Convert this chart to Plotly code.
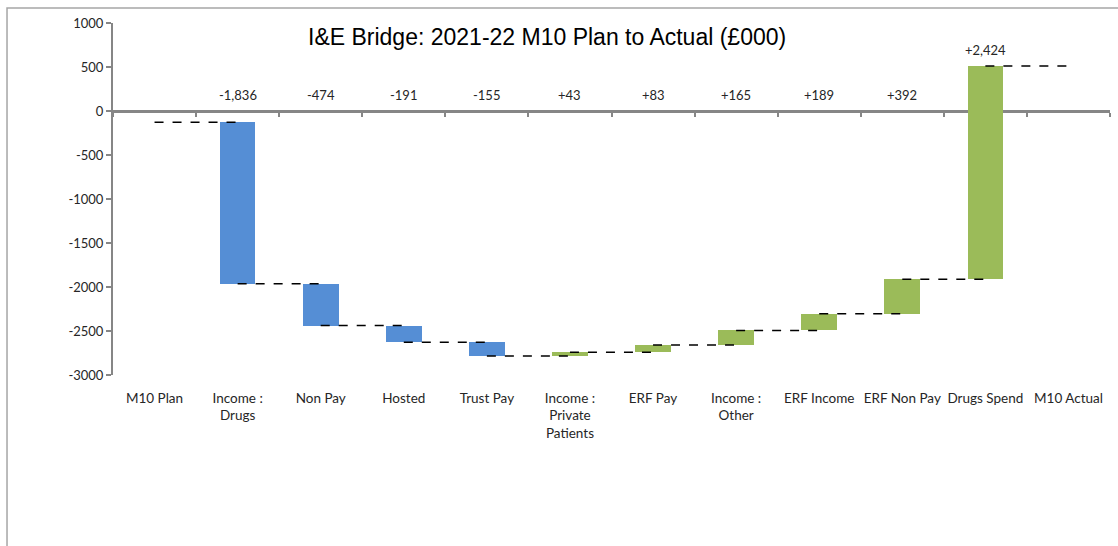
import plotly.graph_objects as go

# I&E bridge: movement from M10 plan to M10 actual (£000)
categories = ["M10 Plan", "Income :<br>Drugs", "Non Pay", "Hosted", "Trust Pay",
              "Income :<br>Private<br>Patients", "ERF Pay", "Income :<br>Other",
              "ERF Income", "ERF Non Pay", "Drugs Spend", "M10 Actual"]
plan_value = -128
movements = [-1836, -474, -191, -155, 43, 83, 165, 189, 392, 2424]

y_tick_values = [1000, 500, 0, -500, -1000, -1500, -2000, -2500, -3000]
y_tick_labels = ["1000", "500", "0", "-500", "-1000", "-1500", "-2000", "-2500", "-3000"]

BLUE = "#558ED5"
GREEN = "#9BBB59"
AXIS_GREY = "#868686"
TEXT = "#262626"
FONT = "Lato"

# running totals
levels = [plan_value]
for m in movements:
    levels.append(levels[-1] + m)
actual_value = levels[-1]

step_cats = categories[1:-1]
bases = levels[:-1]
colors = [BLUE if m < 0 else GREEN for m in movements]

fig = go.Figure()

# floating bars
fig.add_trace(go.Bar(
    x=step_cats, y=movements, base=bases,
    marker=dict(color=colors, line=dict(width=0)),
    width=0.43, hoverinfo="skip", showlegend=False,
))

# dashed connectors: from previous category centre to current centre
conn_x, conn_y = [], []
for i in range(1, len(categories)):
    lvl = levels[i - 1] if i < len(categories) - 1 else actual_value
    conn_x += [categories[i - 1], categories[i], None]
    conn_y += [lvl, lvl, None]
fig.add_trace(go.Scatter(
    x=conn_x, y=conn_y, mode="lines",
    line=dict(color="black", width=1.5, dash="dash"),
    hoverinfo="skip", showlegend=False,
))

# invisible trace holding the categories on the zero-line axis
fig.add_trace(go.Scatter(
    x=categories, y=[0] * len(categories), xaxis="x2", mode="markers",
    marker=dict(opacity=0), hoverinfo="skip", showlegend=False,
))

# movement labels
for cat, m, b in zip(step_cats, movements, bases):
    top = max(b, b + m, 0)
    fig.add_annotation(
        x=cat, y=top, text=f"{m:+,}", showarrow=False,
        yanchor="bottom", yshift=6,
        font=dict(family=FONT, size=13, color=TEXT),
    )

fig.add_annotation(
    x=0.435, y=0.96, xref="paper", yref="paper",
    text="I&E Bridge: 2021-22 M10 Plan to Actual (£000)",
    showarrow=False, xanchor="center", yanchor="middle",
    font=dict(family="Liberation Sans", size=23, color="black"),
)

fig.update_layout(
    width=1118, height=546,
    margin=dict(l=113, r=8, t=23, b=171),
    paper_bgcolor="white", plot_bgcolor="white",
    bargap=0,
    xaxis=dict(
        type="category", categoryorder="array", categoryarray=categories,
        range=[-0.5, len(categories) - 0.5],
        showline=False, showgrid=False, zeroline=False, ticks="",
        tickfont=dict(family=FONT, size=13.5, color=TEXT),
        ticklabelstandoff=13,
    ),
    xaxis2=dict(
        overlaying="x", anchor="free", position=0.75, matches="x",
        type="category", categoryorder="array", categoryarray=categories,
        showline=True, linecolor=AXIS_GREY, linewidth=2.5,
        ticks="outside", tickson="boundaries", ticklen=4, tickwidth=1.5,
        tickcolor=AXIS_GREY, showticklabels=False, showgrid=False, zeroline=False,
        layer="below traces",
    ),
    yaxis=dict(
        range=[-3000, 1000], tickmode="array",
        tickvals=y_tick_values, ticktext=y_tick_labels,
        showline=True, linecolor=AXIS_GREY, linewidth=2,
        ticks="outside", ticklen=5, tickcolor=AXIS_GREY, tickwidth=1.5,
        showgrid=False, zeroline=False,
        tickfont=dict(family=FONT, size=13, color=TEXT),
    ),
    shapes=[dict(
        type="rect", xref="paper", yref="paper",
        x0=-0.1063, x1=1.5, y0=-1.0, y1=1.0426,
        line=dict(color="#A6A6A6", width=1.5), fillcolor="rgba(0,0,0,0)",
        layer="below",
    )],
)

fig.write_html("out.html")
